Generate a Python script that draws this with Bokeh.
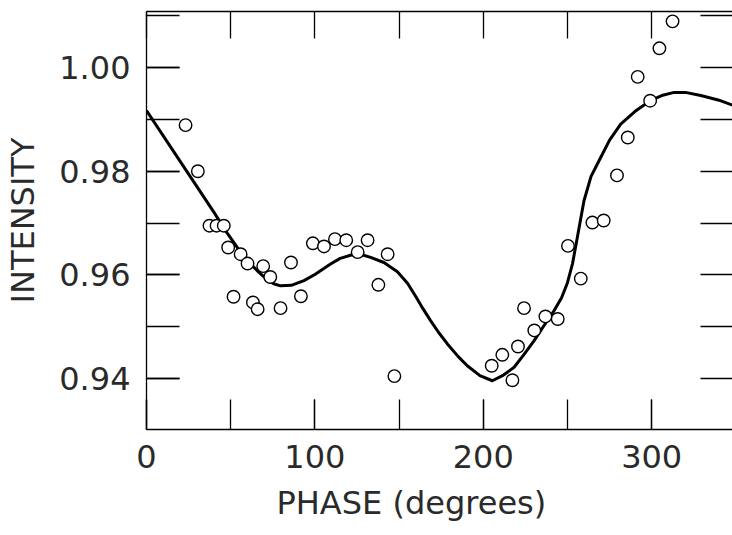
from bokeh.plotting import figure
from bokeh.models import FixedTicker, LinearAxis, Range1d, CustomJSTickFormatter, Title
from bokeh.embed import file_html
from bokeh.resources import INLINE

# Observed intensities (open circles)
phase_obs = [23.2, 30.5, 37.4, 41.6, 45.9, 48.5, 51.7, 55.9, 60.0, 63.2, 66.0, 69.3,
             73.5, 79.6, 85.8, 91.7, 98.8, 105.4, 111.9, 118.6, 125.4, 131.3, 137.7,
             143.2, 147.2, 205.0, 211.3, 217.3, 220.6, 224.2, 230.3, 236.9, 244.2,
             250.3, 257.9, 264.8, 271.5, 279.4, 285.8, 291.7, 299.1, 304.6, 312.4]
intensity_obs = [0.9889, 0.9800, 0.9695, 0.9695, 0.9695, 0.9653, 0.9558, 0.9640, 0.9622,
                 0.9547, 0.9534, 0.9617, 0.9596, 0.9536, 0.9624, 0.9559, 0.9661, 0.9655,
                 0.9669, 0.9667, 0.9644, 0.9667, 0.9581, 0.9640, 0.9405, 0.9425, 0.9446,
                 0.9397, 0.9462, 0.9536, 0.9493, 0.9520, 0.9515, 0.9656, 0.9593, 0.9701,
                 0.9705, 0.9792, 0.9865, 0.9982, 0.9936, 1.0037, 1.0089]

# Model curve
phase_fit = [0, 20, 40, 47, 53.9, 60, 65.8, 71, 75.5, 79.6, 86, 93.5, 100, 109.3, 115,
             122.2, 128, 133.1, 141, 149.0, 155, 160, 164, 168.7, 173.5, 178.7, 185,
             190.5, 198, 205.4, 212, 218.3, 224, 230.1, 236, 242.0, 246.5, 250.0, 253,
             255.9, 259.8, 264, 269.8, 275, 281.6, 290, 299.1, 306, 313.3, 320, 329.2,
             340, 350.0]
intensity_fit = [0.9917, 0.9819, 0.9721, 0.9685, 0.9653, 0.9627, 0.9608, 0.9593, 0.9583,
                 0.9579, 0.9580, 0.9589, 0.9601, 0.9621, 0.9632, 0.9639, 0.9639, 0.9634,
                 0.9624, 0.9606, 0.9584, 0.9558, 0.9536, 0.9512, 0.9489, 0.9467, 0.9443,
                 0.9425, 0.9406, 0.9396, 0.9407, 0.9422, 0.9446, 0.9473, 0.9502, 0.9531,
                 0.9556, 0.9585, 0.9622, 0.9673, 0.9743, 0.9790, 0.9827, 0.9860, 0.9891,
                 0.9915, 0.9936, 0.9946, 0.9952, 0.9952, 0.9946, 0.9937, 0.9925]

x_labels = [0, 100, 200, 300]
x_minor = [0, 50, 100, 150, 200, 250, 300, 350]
y_labels = [0.94, 0.96, 0.98, 1.00]
y_minor = [0.93, 0.94, 0.95, 0.96, 0.97, 0.98, 0.99, 1.00, 1.01]

FONT = "DejaVu Sans"
TXT = "#2a2a2a"

p = figure(width=732, height=535, output_backend="svg", toolbar_location=None,
           x_range=Range1d(0, 348), y_range=Range1d(0.9302, 1.0108),
           min_border_left=146, min_border_right=0, min_border_top=11, min_border_bottom=106,
           y_axis_label="INTENSITY")
p.outline_line_color = None
p.grid.visible = False
p.background_fill_color = "white"
p.border_fill_color = "white"

bottom = p.below[0]
left = p.left[0]

p.line(phase_fit, intensity_fit, line_color="black", line_width=3.0, line_join="round")
p.scatter(phase_obs, intensity_obs, marker="circle", size=12.5, fill_color="white",
          line_color="black", line_width=1.4)

bottom.ticker = FixedTicker(ticks=x_labels, minor_ticks=x_minor)
left.ticker = FixedTicker(ticks=y_labels, minor_ticks=y_minor)
left.formatter = CustomJSTickFormatter(code="return tick.toFixed(2);")

# top and right axes: ticks only, no labels
top = LinearAxis(ticker=FixedTicker(ticks=[], minor_ticks=x_minor))
right = LinearAxis(ticker=FixedTicker(ticks=[], minor_ticks=y_minor))
p.add_layout(top, "above")
p.add_layout(right, "right")

for ax, tick_len in ((bottom, 30), (left, 33), (top, 27), (right, 32)):
    ax.major_tick_in = tick_len
    ax.major_tick_out = 0
    ax.minor_tick_in = tick_len
    ax.minor_tick_out = 0
    ax.axis_line_color = "black"
    ax.axis_line_width = 1.3
    ax.major_tick_line_width = 1.3
    ax.minor_tick_line_width = 1.3
    ax.major_tick_line_color = "black"
    ax.minor_tick_line_color = "black"
right.axis_line_color = None

for ax in (bottom, left):
    ax.major_label_text_font = FONT
    ax.major_label_text_font_size = "32px"
    ax.major_label_text_color = TXT

bottom.major_label_standoff = 15
left.major_label_standoff = 16
left.axis_label_text_font = FONT
left.axis_label_text_font_size = "32px"
left.axis_label_text_font_style = "normal"
left.axis_label_text_color = TXT
left.axis_label_standoff = 14

x_title = Title(text="PHASE (degrees)", align="left", offset=130, standoff=22,
                text_font=FONT, text_font_size="32px", text_font_style="normal",
                text_color=TXT)
p.add_layout(x_title, "below")

open("out.html", "w").write(file_html(p, INLINE))
